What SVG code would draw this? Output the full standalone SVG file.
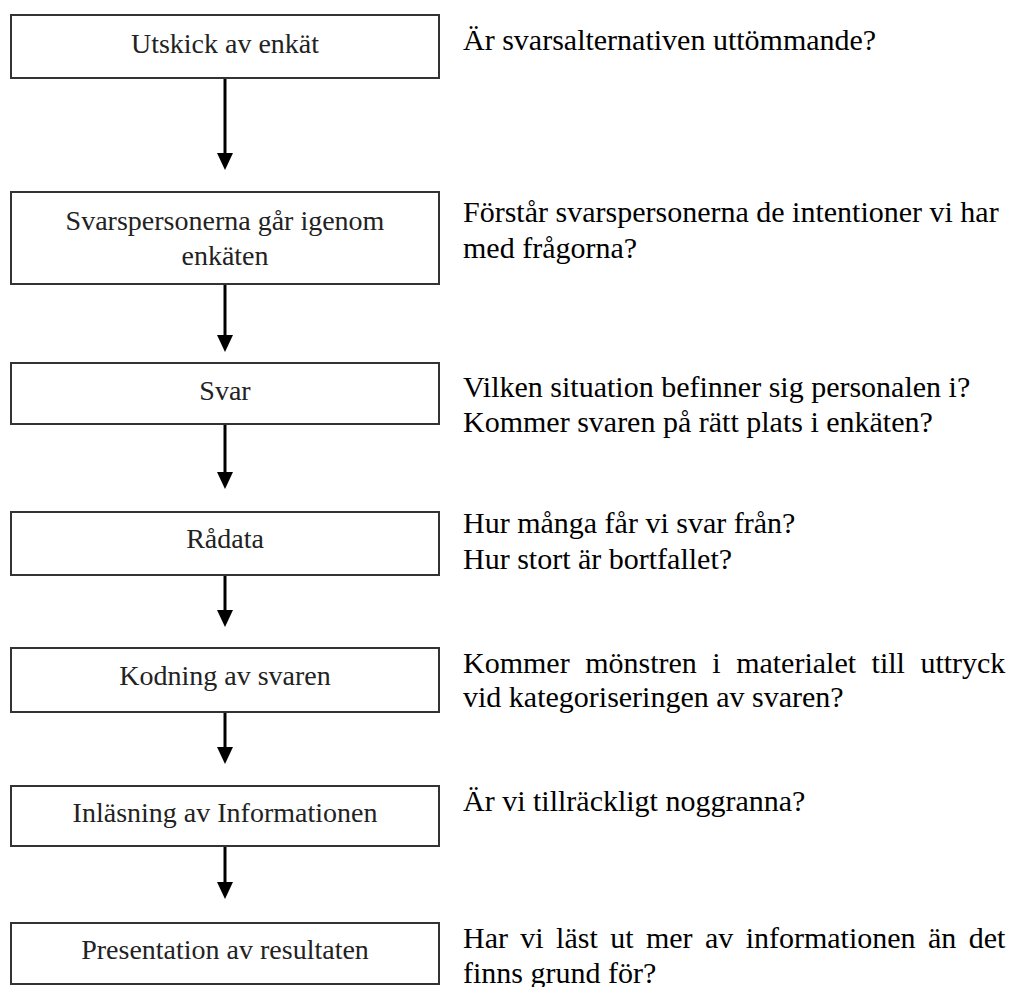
<svg xmlns="http://www.w3.org/2000/svg" width="1010" height="987" viewBox="0 0 1010 987">
<style>
.box{fill:#fff;stroke:#333;stroke-width:2}
.bt{font-family:"Liberation Serif","Times New Roman",serif;font-size:28px;fill:#222;text-anchor:middle}
.q{font-family:"Liberation Serif","Times New Roman",serif;font-size:30px;fill:#000}
.conn{stroke:#000;stroke-width:3;fill:none}
.head{fill:#000}
</style>
<rect width="1010" height="987" fill="#fff"/>
<g id="connectors">
<path class="conn" d="M225,78 V155"/><path class="head" d="M217,153 H233 L225,170 Z"/>
<path class="conn" d="M225,284 V337"/><path class="head" d="M217,335 H233 L225,352 Z"/>
<path class="conn" d="M225,424 V474"/><path class="head" d="M217,472 H233 L225,489 Z"/>
<path class="conn" d="M225,575 V612"/><path class="head" d="M217,610 H233 L225,627 Z"/>
<path class="conn" d="M225,712 V749"/><path class="head" d="M217,747 H233 L225,764 Z"/>
<path class="conn" d="M225,846 V884"/><path class="head" d="M217,882 H233 L225,899 Z"/>
</g>
<g id="n1"><rect class="box" x="11" y="15" width="428" height="63"/><text class="bt" x="225" y="53">Utskick av enkät</text></g>
<g id="n2"><rect class="box" x="11" y="192" width="428" height="92"/><text class="bt" x="225" y="230">Svarspersonerna går igenom</text><text class="bt" x="225" y="265">enkäten</text></g>
<g id="n3"><rect class="box" x="11" y="363" width="428" height="61"/><text class="bt" x="225" y="400">Svar</text></g>
<g id="n4"><rect class="box" x="11" y="512" width="428" height="63"/><text class="bt" x="225" y="548">Rådata</text></g>
<g id="n5"><rect class="box" x="11" y="648" width="428" height="64"/><text class="bt" x="225" y="685">Kodning av svaren</text></g>
<g id="n6"><rect class="box" x="11" y="786" width="428" height="60"/><text class="bt" x="225" y="822">Inläsning av Informationen</text></g>
<g id="n7"><rect class="box" x="11" y="923" width="428" height="61"/><text class="bt" x="225" y="959">Presentation av resultaten</text></g>
<g id="questions">
<text class="q" x="463" y="50">Är svarsalternativen uttömmande?</text>
<text class="q" x="463" y="222">Förstår svarspersonerna de intentioner vi har</text>
<text class="q" x="463" y="258">med frågorna?</text>
<text class="q" x="463" y="397">Vilken situation befinner sig personalen i?</text>
<text class="q" x="463" y="432">Kommer svaren på rätt plats i enkäten?</text>
<text class="q" x="463" y="533">Hur många får vi svar från?</text>
<text class="q" x="463" y="569">Hur stort är bortfallet?</text>
<text class="q" x="463" y="673" word-spacing="8">Kommer mönstren i materialet till uttryck</text>
<text class="q" x="463" y="707">vid kategoriseringen av svaren?</text>
<text class="q" x="463" y="811">Är vi tillräckligt noggranna?</text>
<text class="q" x="463" y="948" word-spacing="4.9">Har vi läst ut mer av informationen än det</text>
<text class="q" x="463" y="983">finns grund för?</text>
</g>
</svg>
